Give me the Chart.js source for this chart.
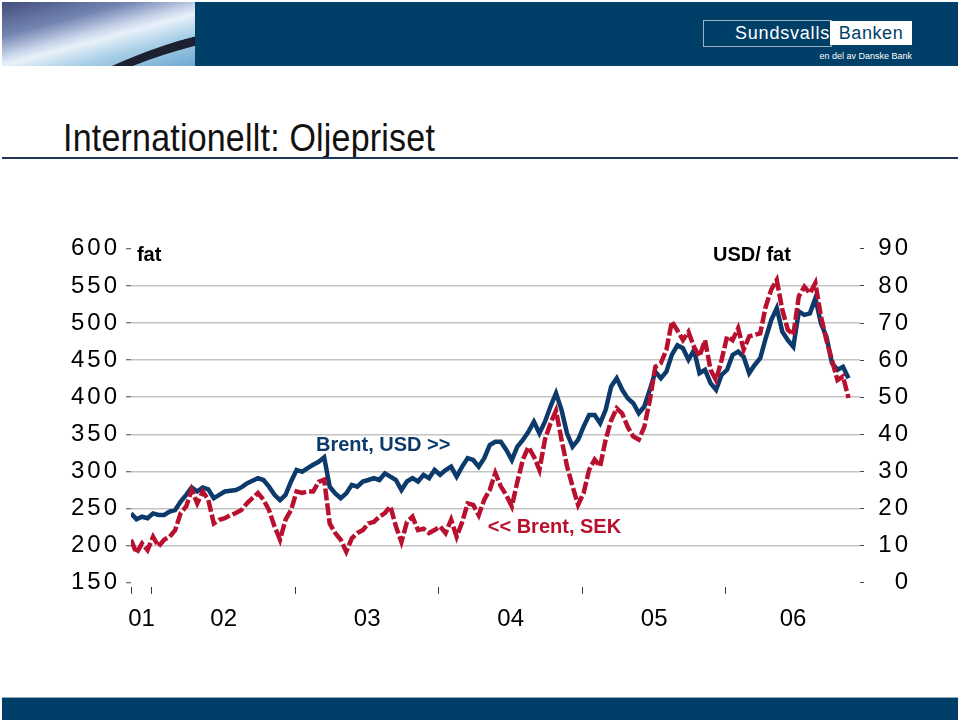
<!DOCTYPE html>
<html><head><meta charset="utf-8">
<script src="https://cdn.jsdelivr.net/npm/chart.js@4.4.1/dist/chart.umd.min.js"></script>
<style>
html,body{margin:0;padding:0;background:#fff;width:960px;height:720px;overflow:hidden;font-family:'Liberation Sans',Arial,sans-serif;}
.abs{position:absolute;}
#band{left:2px;top:2px;width:956px;height:64px;background:#003f67;}
#pic{left:2px;top:2px;width:193px;height:64px;overflow:hidden;
 background:linear-gradient(165deg,#434d7c 0%,#7485b2 30%,#cbd8ec 48%,#e8f1f9 55%,#a9cfe7 72%,#6ea8d1 100%);}
#swoosh{left:10px;top:30px;width:420px;height:150px;border-top:9px solid #1b2130;border-radius:50%;transform:rotate(-14deg);}
#logo1{left:703px;top:20px;width:126px;height:25px;border:1px solid #9db2c3;color:#fff;font-size:18px;line-height:25px;text-align:right;padding-right:1px;letter-spacing:0.8px;}
#logo2{left:830px;top:21px;width:82px;height:24px;background:#fff;color:#003f67;font-size:18px;line-height:24px;text-align:center;letter-spacing:0.6px;}
#logo3{left:808px;top:51px;width:104px;color:#fff;font-size:9px;text-align:right;}
#title{left:63px;top:115px;font-size:34px;color:#111;transform:scaleY(1.15);transform-origin:0 0;white-space:nowrap;letter-spacing:0.2px;}
#rule{left:2px;top:157px;width:956px;height:2px;background:#1f3658;}
#foot{left:2px;top:697px;width:956px;height:22px;background:#003f67;border-top:1px solid #8fa8bb;}
#wrap{left:0;top:200px;width:960px;height:460px;}
</style></head><body>
<div id="band" class="abs"></div>
<div id="pic" class="abs"><div id="swoosh" class="abs"></div></div>
<div id="logo1" class="abs">Sundsvalls</div>
<div id="logo2" class="abs">Banken</div>
<div id="logo3" class="abs">en del av Danske Bank</div>
<div id="title" class="abs">Internationellt: Oljepriset</div>
<div id="rule" class="abs"></div>
<div id="foot" class="abs"></div>
<div id="wrap" class="abs"><canvas id="c"></canvas></div>
<script>
// ---- data ----
const yearLabels = ['01','02','03','04','05','06'];
const sekTicks = [150,200,250,300,350,400,450,500,550,600];
const usdTicks = [0,10,20,30,40,50,60,70,80,90];
// Brent, USD per barrel (right axis), roughly every two weeks from Nov 2001
const brentUSD = [18.7,17.1,17.8,17.4,18.7,18.3,18.3,19.2,19.6,21.9,23.7,25.7,24.6,25.7,25.2,22.8,23.7,24.6,24.8,25.0,25.7,26.8,27.5,28.2,27.7,25.9,23.7,22.3,23.7,27.3,30.4,29.9,30.9,31.8,
32.6,33.8,25.9,24.1,22.8,24.1,26.4,25.9,27.3,27.7,28.2,27.7,29.5,28.6,27.7,25.0,27.3,28.2,27.3,29.1,28.2,30.4,29.1,30.4,31.3,28.6,31.3,33.6,33.1,31.3,33.6,37.1,38.0,
38.0,35.8,33.1,36.7,38.5,40.7,43.4,40.3,43.4,47.5,51.1,46.6,40.3,36.7,38.5,42.1,45.2,45.2,43.0,46.6,52.9,55.1,52.0,49.7,48.4,45.7,47.5,52.0,56.9,55.1,56.9,61.5,64.0,
63.2,60.1,62.7,56.5,57.4,53.8,52.0,56.0,57.4,61.4,62.3,60.9,56.5,58.7,60.5,65.9,70.8,74.0,67.7,65.4,63.6,73.1,72.2,72.6,76.7,69.9,66.3,59.2,57.4,58.2,55.1];
// Brent, SEK per barrel (left axis)
const brentSEK = [208,190,203,194,212,199,208,212,221,244,253,275,257,273,262,230,235,237,241,244,248,257,264,271,262,248,226,208,235,248,273,271,273,273,
286,289,230,217,208,192,210,217,221,230,232,239,244,253,226,205,232,239,221,223,217,221,226,217,235,212,232,257,255,241,262,275,298,
280,268,253,286,316,333,320,302,343,365,382,343,307,280,255,271,302,316,307,343,369,385,378,360,347,343,360,396,441,446,464,502,490,
477,488,468,455,477,437,423,450,482,477,493,464,482,484,486,522,545,558,518,491,484,536,549,540,554,509,477,450,423,428,399];
const tStart = 2001.854, tEnd = 2006.934, tStep = 1/26;
const yearBounds = [tStart, 2002, 2003, 2004, 2005, 2006];

// ---- styles ----
const BLUE = '#0b3a6b', RED = '#b8102e';
const FONT = "'Liberation Sans', Arial, sans-serif";
const toPts = arr => arr.map((v, i) => ({x: tStart + i * tStep, y: v}));
const bounds = yearBounds.concat([tEnd]);
const labelPos = yearLabels.map((_, i) => (bounds[i] + bounds[i + 1]) / 2);

const notes = [
  {text: 'fat', t: 2001.895, axis: 'y', v: 591, color: '#000'},
  {text: 'USD/ fat', t: 2005.91, axis: 'y', v: 591, color: '#000'},
  {text: 'Brent, USD >>', t: 2003.143, axis: 'y', v: 335.5, color: BLUE},
  {text: '<< Brent, SEK', t: 2004.34, axis: 'y', v: 225, color: RED}
];

// wide digit spacing on the value axes only
const spaceLabels = s => {
  if (s._spaced) return;
  const orig = s.drawLabels.bind(s);
  s.drawLabels = area => {
    const c = s.ctx; c.save(); c.letterSpacing = '3px'; orig(area); c.restore();
  };
  s._spaced = true;
};

const notesPlugin = {
  id: 'notes',
  afterDraw(chart) {
    const ctx = chart.ctx;
    ctx.save();
    ctx.font = 'bold 20px ' + FONT;
    ctx.textBaseline = 'middle';
    ctx.textAlign = 'left';
    notes.forEach(n => {
      ctx.fillStyle = n.color;
      ctx.fillText(n.text, chart.scales.x.getPixelForValue(n.t), chart.scales[n.axis].getPixelForValue(n.v));
    });
    ctx.restore();
  }
};

new Chart(document.getElementById('c'), {
  type: 'line',
  data: {
    datasets: [
      {label: 'Brent, SEK', data: toPts(brentSEK), yAxisID: 'y', xAxisID: 'x', borderColor: RED,
       borderWidth: 4.5, borderDash: [12, 3], pointRadius: 0, tension: 0, order: 1, fill: false},
      {label: 'Brent, USD', data: toPts(brentUSD), yAxisID: 'y2', xAxisID: 'x', borderColor: BLUE,
       borderWidth: 4.5, pointRadius: 0, tension: 0, order: 2, fill: false}
    ]
  },
  options: {
    responsive: true, maintainAspectRatio: false, animation: false,
    layout: {padding: {left: 0, right: 49, top: 48.8, bottom: 31.2}},
    plugins: {legend: {display: false}, tooltip: {enabled: false}},
    scales: {
      x: {
        type: 'linear', position: 'bottom', min: tStart, max: tEnd, weight: 0,
        afterBuildTicks: s => { s.ticks = yearBounds.map(v => ({value: v})); },
        afterFit: s => { s.height = 12; },
        grid: {drawOnChartArea: false, drawTicks: true, tickLength: 11, tickColor: '#333', tickWidth: 1, tickBorderDash: [0, 4, 7, 30]},
        border: {display: false},
        ticks: {display: false}
      },
      x2: {
        type: 'linear', position: 'bottom', min: tStart, max: tEnd, weight: 1,
        afterBuildTicks: s => { s.ticks = labelPos.map(v => ({value: v})); },
        afterFit: s => { s.height = 34; },
        grid: {display: false, drawTicks: false},
        border: {display: false},
        ticks: {autoSkip: false, maxRotation: 0, padding: 10, color: '#000',
                font: {family: FONT, size: 24}, callback: (v, i) => yearLabels[i]}
      },
      y: {
        position: 'left', min: 150, max: 600,
        afterBuildTicks: s => { s.ticks = sekTicks.map(v => ({value: v})); },
        afterFit: s => { s.width = 131; },
        afterUpdate: spaceLabels,
        grid: {
          color: c => (c.tick && (c.tick.value === 600 || c.tick.value === 150)) ? 'rgba(0,0,0,0)' : '#c4c4c4',
          lineWidth: 1.5, tickLength: 5, tickColor: '#444', tickWidth: 1
        },
        border: {display: false},
        ticks: {padding: 6, color: '#000', font: {family: FONT, size: 24}}
      },
      y2: {
        position: 'right', min: 0, max: 90,
        afterBuildTicks: s => { s.ticks = usdTicks.map(v => ({value: v})); },
        afterFit: s => { s.width = 51; },
        afterUpdate: spaceLabels,
        grid: {drawOnChartArea: false, tickLength: 4, tickColor: '#444', tickWidth: 1},
        border: {display: false},
        ticks: {crossAlign: 'far', color: '#000', font: {family: FONT, size: 24}}
      }
    }
  },
  plugins: [notesPlugin]
});
</script>
</body></html>
